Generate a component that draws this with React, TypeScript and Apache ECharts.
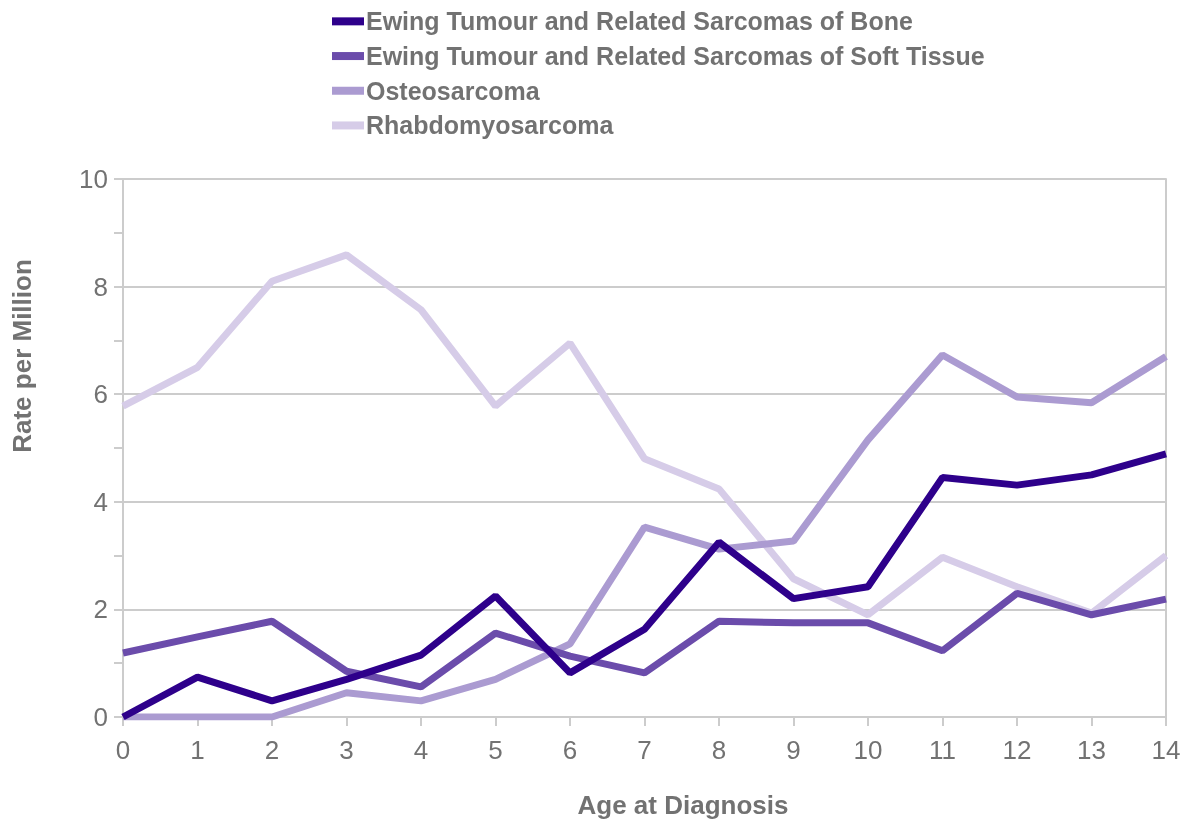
import React, { useEffect, useRef } from "react";
import * as echarts from "echarts";

const ages = ["0", "1", "2", "3", "4", "5", "6", "7", "8", "9", "10", "11", "12", "13", "14"];
const seriesNames = [
  "Ewing Tumour and Related Sarcomas of Bone",
  "Ewing Tumour and Related Sarcomas of Soft Tissue",
  "Osteosarcoma",
  "Rhabdomyosarcoma",
];
const ewingBone = [0.0, 0.74, 0.3, 0.7, 1.15, 2.25, 0.82, 1.63, 3.25, 2.2, 2.42, 4.45, 4.31, 4.5, 4.89];
const ewingSoft = [1.19, 1.49, 1.78, 0.85, 0.56, 1.56, 1.13, 0.82, 1.78, 1.75, 1.75, 1.23, 2.3, 1.9, 2.19];
const osteo = [0, 0, 0, 0.45, 0.3, 0.7, 1.36, 3.53, 3.12, 3.27, 5.15, 6.73, 5.95, 5.84, 6.7];
const rhabdo = [5.78, 6.5, 8.1, 8.59, 7.57, 5.78, 6.95, 4.8, 4.24, 2.57, 1.9, 2.97, 2.42, 1.93, 3.0];
const colors = ["#2E008B", "#6B4CAB", "#AB9BD1", "#D6CCE8"];

export default function App() {
  const ref = useRef<HTMLDivElement>(null);
  useEffect(() => {
    if (!ref.current) return;
    const chart = echarts.init(ref.current, null, { renderer: "svg" });
    const font = "'Liberation Sans', Arial, sans-serif";
    const gray = "#727272";
    const data = [ewingBone, ewingSoft, osteo, rhabdo];
    chart.setOption({
      animation: false,
      textStyle: { fontFamily: font },
      legend: {
        orient: "vertical",
        left: 327,
        top: 3,
        itemWidth: 32,
        itemHeight: 8,
        itemGap: 8,
        data: seriesNames.map((n) => ({ name: n, icon: "rect" })),
        textStyle: { color: gray, fontSize: 25, fontWeight: "bold", fontFamily: font, padding: [0, 0, 0, -3], lineHeight: 26.7 },
      },
      grid: { left: 123, right: 20, top: 179, bottom: 102, show: true, borderColor: "#cccccc", borderWidth: 0 },
      xAxis: {
        type: "category",
        data: ages,
        boundaryGap: false,
        axisLine: { lineStyle: { color: "#cccccc", width: 2 } },
        axisTick: { show: true, length: 9, lineStyle: { color: "#cccccc", width: 2 }, alignWithLabel: true },
        axisLabel: { color: gray, fontSize: 26, margin: 20, fontFamily: font },
        splitLine: { show: false },
      },
      yAxis: [
        {
          type: "value",
          min: 0,
          max: 10,
          interval: 2,
          axisLine: { show: true, lineStyle: { color: "#cccccc", width: 2 } },
          axisTick: { show: true, length: 9, lineStyle: { color: "#cccccc", width: 2 } },
          minorTick: { show: true, splitNumber: 2, length: 9, lineStyle: { color: "#cccccc", width: 2 } },
          axisLabel: { color: gray, fontSize: 26, margin: 15, fontFamily: font },
          splitLine: { show: true, lineStyle: { color: "#cccccc", width: 2 } },
        },
        {
          type: "value",
          position: "right",
          min: 0,
          max: 10,
          interval: 2,
          axisLine: { show: true, lineStyle: { color: "#cccccc", width: 2 } },
          axisTick: { show: false },
          axisLabel: { show: false },
          splitLine: { show: false },
        },
      ],
      graphic: [
        {
          type: "text",
          x: 22,
          y: 356,
          rotation: Math.PI / 2,
          style: { text: "Rate per Million", fill: gray, font: `bold 26px ${font}`, textAlign: "center", textVerticalAlign: "middle" },
        },
        {
          type: "text",
          x: 683,
          y: 805,
          style: { text: "Age at Diagnosis", fill: gray, font: `bold 26px ${font}`, textAlign: "center", textVerticalAlign: "middle" },
        },
      ],
      series: seriesNames.map((n, i) => ({
        name: n,
        type: "line",
        data: data[i],
        showSymbol: false,
        symbol: "none",
        z: 10 - i,
        lineStyle: { color: colors[i], width: 7 },
        itemStyle: { color: colors[i] },
      })),
    });
    return () => chart.dispose();
  }, []);
  return <div ref={ref} style={{ position: "fixed", left: 0, top: 0, width: 1186, height: 819 }} />;
}
